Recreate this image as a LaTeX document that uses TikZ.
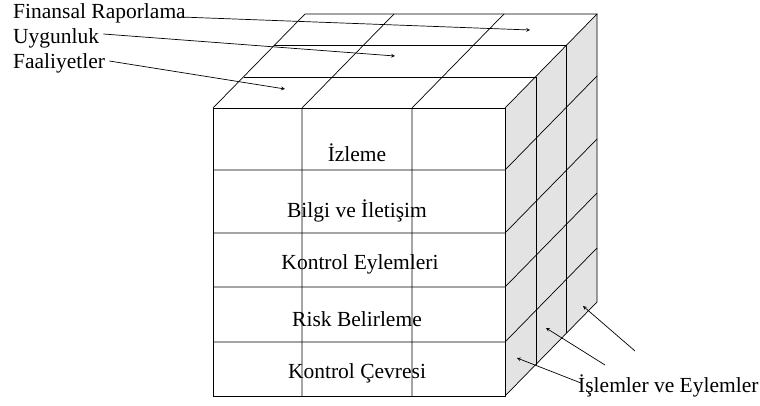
\documentclass[tikz,border=0pt]{standalone}
\usepackage{fontspec}
\setmainfont{Liberation Serif}
\usetikzlibrary{calc}
\tikzstyle{lbl}=[font=\fontsize{21.5}{24}\selectfont, inner sep=1pt]
\tikzstyle{edge}=[line width=0.7pt]
\tikzstyle{pnt}=[-stealth, line width=0.7pt]

\begin{document}
\begin{tikzpicture}[x=1pt,y=-1pt]
\useasboundingbox (0,0) rectangle (760,405);
% front face corners
\coordinate (ftl) at (213,108);
\coordinate (ftr) at (505,108);
\coordinate (fbl) at (213,396);
\coordinate (fbr) at (505,396);
% back corners
\coordinate (btl) at (305,14);
\coordinate (btr) at (597,14);
\coordinate (bbr) at (597,302);
% right face
\fill[black!11] (ftr) -- (btr) -- (bbr) -- (fbr) -- cycle;
\draw[edge] (ftl) rectangle (fbr);
\draw[edge] (ftl) -- (btl) -- (btr) -- (ftr);
\draw[edge] (btr) -- (bbr) -- (fbr);
% rows
\draw[edge] (213,170) -- (505,170) -- (597,76);
\draw[edge] (213,233) -- (505,233) -- (597,139);
\draw[edge] (213,287) -- (505,287) -- (597,193);
\draw[edge] (213,342) -- (505,342) -- (597,248);
% columns
\draw[edge] (302,396) -- (302,108) -- (394,14);
\draw[edge] (412,396) -- (412,108) -- (504,14);
% depth slices
\draw[edge] (244,77) -- (536,77) -- (536,365);
\draw[edge] (274,45) -- (566,45) -- (566,333);
% layer names
\node[lbl] (izl) at (357,153) {İzleme};
\node[lbl] (bil) at (357,211) {Bilgi ve İletişim};
\node[lbl] (kon) at (360,264) {Kontrol Eylemleri};
\node[lbl] (ris) at (357,319) {Risk Belirleme};
\node[lbl] (cev) at (357,373) {Kontrol Çevresi};
% objectives
\node[lbl, anchor=west] (fin) at (12,13) {Finansal Raporlama};
\node[lbl, anchor=west] (uyg) at (12,38) {Uygunluk};
\node[lbl, anchor=west] (faa) at (12,63) {Faaliyetler};
\coordinate (finT) at (530,30);
\coordinate (uygT) at (395,56);
\coordinate (faaT) at (285,89);
\draw[pnt] (fin.east) ++(-6,4) -- (finT);
\draw[pnt] (uyg.east) ++(3,-4) -- (uygT);
\draw[pnt] (faa.east) ++(3,-2) -- (faaT);
% units
\node[lbl, anchor=west] (isl) at (577,386) {İşlemler ve Eylemler};
\coordinate (u1) at (605,365);
\coordinate (u2) at (635,351);
\coordinate (t0) at (517,358);
\coordinate (t1) at (546,328);
\coordinate (t2) at (583,306);
\draw[pnt] (isl.west) ++(4,-3) -- (t0);
\draw[pnt] (u1) -- (t1);
\draw[pnt] (u2) -- (t2);
\end{tikzpicture}
\end{document}
